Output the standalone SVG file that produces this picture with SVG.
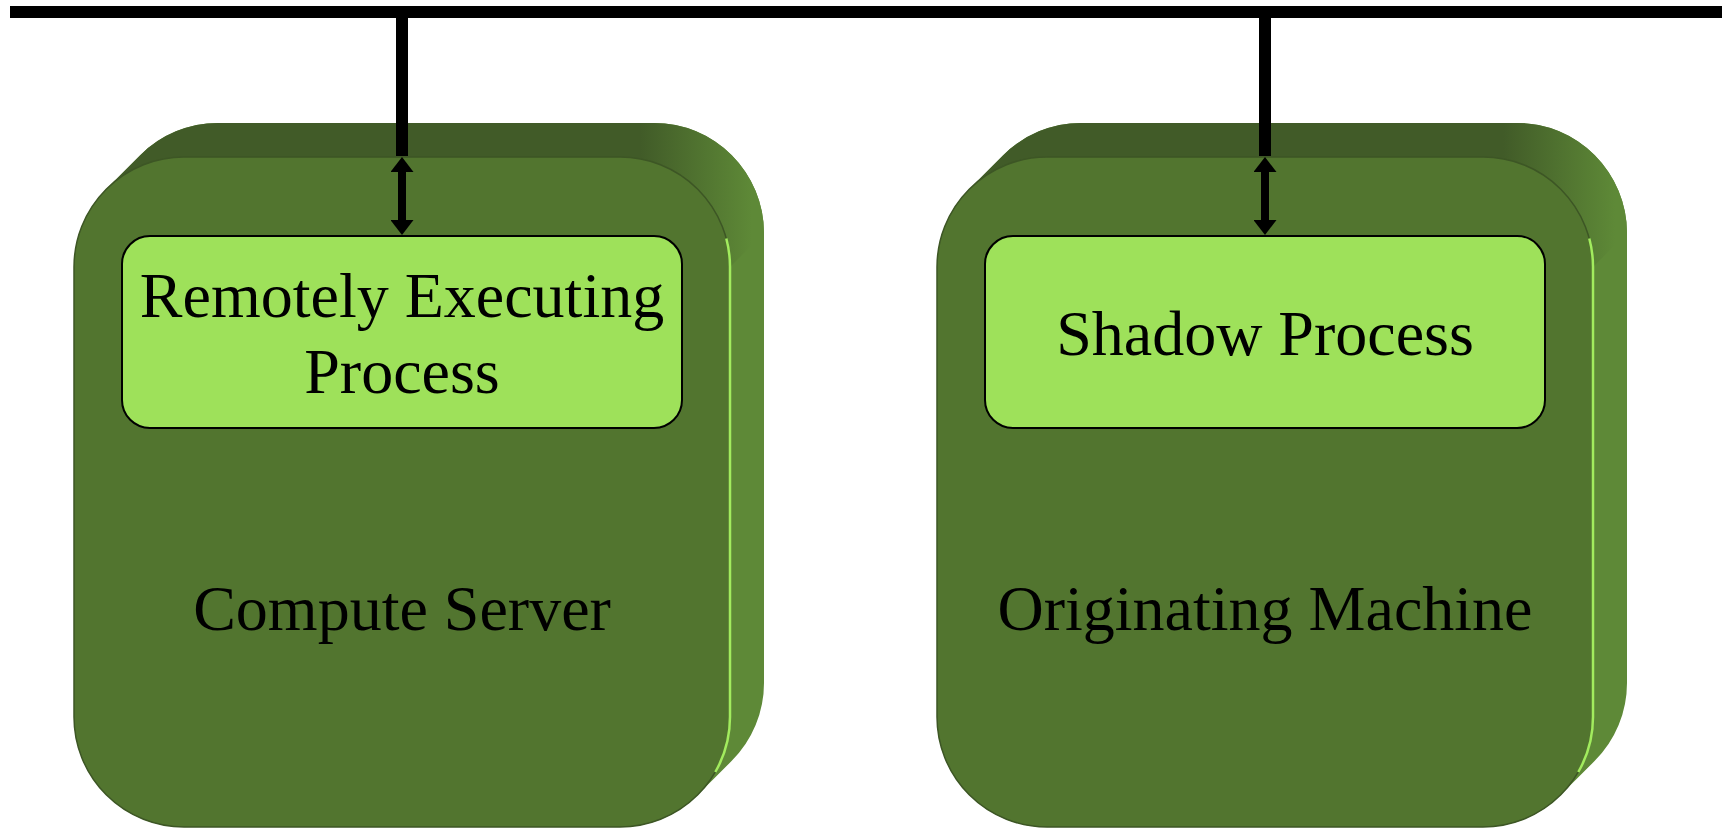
<svg xmlns="http://www.w3.org/2000/svg" xmlns:xlink="http://www.w3.org/1999/xlink" width="1731" height="828" viewBox="0 0 1731 828">
  <style>
    .side { fill: #5e8937; }
    .front { fill: #52752f; stroke: #3d5625; stroke-width: 1.5; }
    .hl { fill: none; stroke: #a2ec5e; stroke-width: 2.5; }
    .inner { fill: #9ee15a; stroke: #000; stroke-width: 2; }
    .lbl { font-family: "Liberation Serif", "Times New Roman", serif; font-size: 64px; fill: #000; text-anchor: middle; }
    .bus { stroke: #000; stroke-width: 12; fill: none; }
    .dbl { stroke: #000; stroke-width: 8; fill: none; marker-start: url(#ah); marker-end: url(#ah); }
  </style>
  <defs>
    <linearGradient id="topg" gradientUnits="userSpaceOnUse" x1="640" y1="0" x2="752" y2="0">
      <stop offset="0" stop-color="#415b28"/>
      <stop offset="1" stop-color="#5e8937"/>
    </linearGradient>
    <marker id="ah" markerUnits="userSpaceOnUse" viewBox="0 0 15 23" markerWidth="15" markerHeight="23" refX="2" refY="11.5" orient="auto-start-reverse">
      <path d="M0,0 L15,11.5 L0,23 Z" fill="#000"/>
    </marker>
    <g id="body">
      <path class="side" d="M74,267 A110,110 0 0 1 106.2,189.2 L140.2,155.2 A110,110 0 0 1 218,123 L654,123 A110,110 0 0 1 764,233 L764,683 A110,110 0 0 1 731.8,760.8 L697.8,794.8 A110,110 0 0 1 620,827 L184,827 A110,110 0 0 1 74,717 Z"/>
      <path fill="url(#topg)" d="M106.2,189.2 L140.2,155.2 A110,110 0 0 1 218,123 L654,123 A110,110 0 0 1 764,233 L730,267 A110,110 0 0 0 620,157 L184,157 A110,110 0 0 0 106.2,189.2 Z"/>
      <rect class="front" x="74" y="157" width="656" height="670" rx="110" ry="110"/>
      <path class="hl" d="M726.3,238.5 A110,110 0 0 1 730,267 L730,717 A110,110 0 0 1 715.3,772"/>
    </g>
  </defs>

  <g id="compute-server">
    <use xlink:href="#body" href="#body"/>
    <rect class="inner" x="122" y="236" width="560" height="192" rx="28" ry="28"/>
    <text class="lbl" x="402" y="317">Remotely Executing</text>
    <text class="lbl" x="402" y="393">Process</text>
    <text class="lbl" x="402" y="630">Compute Server</text>
  </g>

  <g id="originating-machine" transform="translate(863,0)">
    <use xlink:href="#body" href="#body"/>
    <rect class="inner" x="122" y="236" width="560" height="192" rx="28" ry="28"/>
    <text class="lbl" x="402" y="355">Shadow Process</text>
    <text class="lbl" x="402" y="630">Originating Machine</text>
  </g>

  <g id="connectors">
    <line class="bus" x1="10" y1="12" x2="1722" y2="12"/>
    <line class="bus" x1="402" y1="12" x2="402" y2="156"/>
    <line class="bus" x1="1265" y1="12" x2="1265" y2="156"/>
    <line class="dbl" x1="402" y1="170" x2="402" y2="222"/>
    <line class="dbl" x1="1265" y1="170" x2="1265" y2="222"/>
  </g>
</svg>
